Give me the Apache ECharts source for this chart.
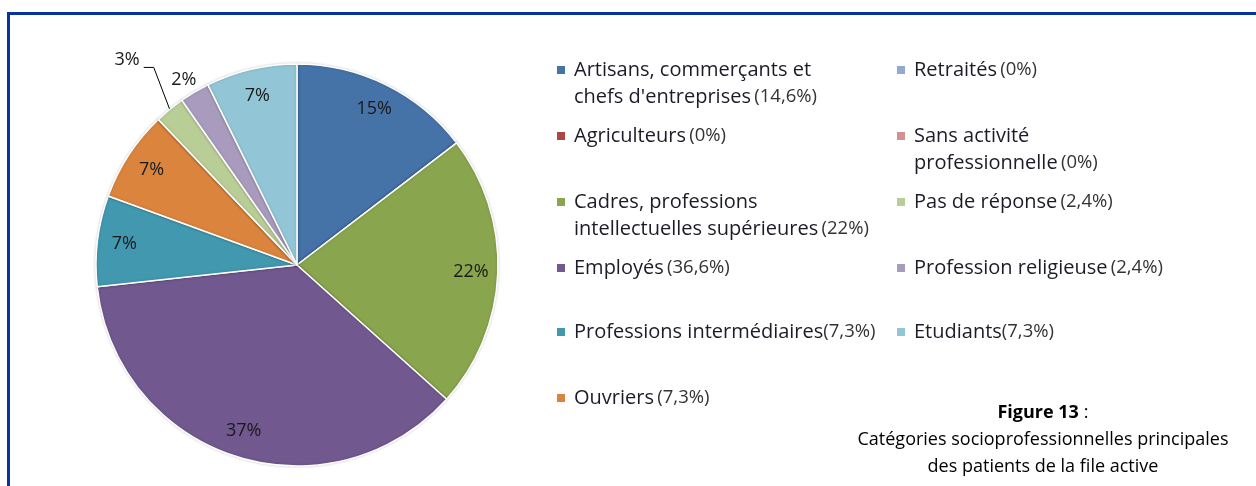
<!DOCTYPE html>
<html>
<head>
<meta charset="utf-8">
<script src="https://cdn.jsdelivr.net/npm/echarts@6/dist/echarts.min.js"></script>
<style>
  html, body { margin: 0; padding: 0; background: #fff; }
  #pie { width: 1256px; height: 486px; }
</style>
</head>
<body>
<div id="pie"></div>
<script>
// catégories, dans l'ordre du camembert (sens horaire depuis midi)
const names = [
  "Artisans, commerçants et\nchefs d'entreprises",
  "Agriculteurs",
  "Cadres, professions\nintellectuelles supérieures",
  "Employés",
  "Professions intermédiaires",
  "Ouvriers",
  "Retraités",
  "Sans activité\nprofessionnelle",
  "Pas de réponse",
  "Profession religieuse",
  "Etudiants"
];
const values = [14.6, 0, 22, 36.6, 7.3, 7.3, 0, 0, 2.4, 2.4, 7.3]; // en %
const colors = ["#4572a7", "#aa4643", "#89a54e", "#71588f", "#4198af", "#db843d",
                "#93a9cf", "#d19392", "#b9cd96", "#a99bbd", "#92c5d5"];

const font = "'Open Sans', sans-serif";
const rowY = [70, 136, 202, 268, 332, 398]; // centre de la 1re ligne de chaque rangée de légende
const noSpace = { 4: true, 10: true }; // "intermédiaires(7,3%)", "Etudiants(7,3%)"

function legendText(name) {
  const i = names.indexOf(name);
  const lines = name.split("\n").map(l => "{n|" + l + "}");
  const pct = String(values[i]).replace(".", ",") + "%";
  lines[lines.length - 1] += (noSpace[i] ? "" : " ") + "{p|(" + pct + ")}";
  return lines.join("\n");
}

const legends = names.map((nm, i) => {
  const col = i < 6 ? 0 : 1;
  const row = i < 6 ? i : i - 6;
  const multi = nm.indexOf("\n") >= 0;
  return {
    data: [nm],
    orient: "vertical",
    left: col ? 895 : 555,
    top: rowY[row] - 10,
    padding: 0,
    icon: "rect",
    itemWidth: 10,
    itemHeight: 10,
    selectedMode: false,
    formatter: legendText,
    textStyle: {
      padding: multi ? [27, 0, 0, 3] : [0, 0, 0, 3],
      rich: {
        n: { fontFamily: font, fontSize: 20, lineHeight: 27, color: "#1c1c28" },
        p: { fontFamily: font, fontSize: 18.5, lineHeight: 27, color: "#333333" }
      }
    }
  };
});

// étiquettes à l'extérieur pour les petites parts
const outside = {
  8: { label: { position: "outside" },
       labelLine: { show: true, length: 44, length2: 10, lineStyle: { color: "#000", width: 1 } } },
  9: { label: { position: "outside" }, labelLine: { show: false, length: 14, length2: 0 } }
};

// ligne de rappel du "3%" : plus verticale, comme dans l'original
function placeLabel(params) {
  if (params.dataIndex === 9) return { dx: 14 };
  if (params.dataIndex === 8 && params.labelLinePoints) {
    const p0 = params.labelLinePoints[0];
    const p1 = [p0[0] - 16, p0[1] - 42];
    const p2 = [p1[0] - 10, p1[1]];
    return {
      labelLinePoints: [p0, p1, p2],
      x: p2[0] - 4,
      y: p2[1] - 8,
      align: "right",
      verticalAlign: "middle"
    };
  }
  return {};
}

const option = {
  animation: false,
  color: colors,
  title: {
    text: "{b|Figure 13} {r|:}\n{r|Catégories socioprofessionnelles principales}\n{r|des patients de la file active}",
    left: 1043,
    top: 399,
    textAlign: "center",
    padding: 0,
    textStyle: {
      align: "center",
      fontWeight: "normal",
      rich: {
        b: { fontFamily: font, fontSize: 18, fontWeight: "bold", lineHeight: 27, color: "#000" },
        r: { fontFamily: font, fontSize: 18, fontWeight: "normal", lineHeight: 27, color: "#000" }
      }
    }
  },
  legend: legends,
  graphic: [{
    type: "rect",
    shape: { x: 8.5, y: 13.5, width: 1400, height: 600 },
    style: { fill: "none", stroke: "#0633a0", lineWidth: 3 },
    silent: true
  }],
  series: [
    {
      type: "pie",
      center: [297, 265],
      radius: 201,
      startAngle: 90,
      silent: true,
      label: { show: false },
      labelLine: { show: false },
      itemStyle: { borderColor: "#fff", borderWidth: 1.5, shadowBlur: 3, shadowColor: "rgba(0,0,0,0.18)" },
      data: values.map((v, i) => ({ name: names[i], value: v }))
    },
    {
      // anneau invisible qui porte les pourcentages vers 0,85 du rayon
      type: "pie",
      center: [297, 265],
      radius: [141, 201],
      startAngle: 90,
      silent: true,
      avoidLabelOverlap: false,
      percentPrecision: 0,
      itemStyle: { color: "rgba(0,0,0,0)" },
      label: {
        position: "inside",
        fontFamily: font,
        fontSize: 18,
        color: "#1a1a1a",
        formatter: p => (p.value ? p.percent + "%" : "")
      },
      labelLine: { show: false },
      labelLayout: placeLabel,
      data: values.map((v, i) => Object.assign({ name: names[i], value: v }, outside[i] || {}))
    }
  ]
};

const myChart = echarts.init(document.getElementById("pie"));
myChart.setOption(option);
window.addEventListener("resize", () => {
  myChart.resize();
});
</script>
</body>
</html>
